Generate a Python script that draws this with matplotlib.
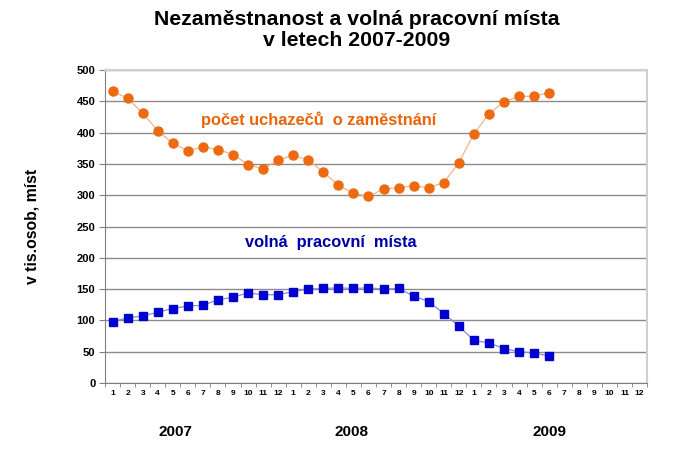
import matplotlib
matplotlib.use("Agg")
import matplotlib.pyplot as plt
import numpy as np

plt.rcParams['font.family'] = ['Liberation Sans', 'DejaVu Sans']

months = [str(m) for m in range(1, 13)] * 3
years = ["2007", "2008", "2009"]
uchazeci = [466, 455, 431, 403, 383, 371, 377, 373, 365, 349, 342, 356,
            364, 356, 337, 316, 303, 298, 310, 312, 315, 312, 320, 352,
            398, 430, 449, 458, 458, 464]
volna_mista = [98, 104, 107, 113, 119, 123, 124, 133, 137, 144, 141, 141,
               146, 150, 151, 152, 151, 152, 150, 151, 139, 130, 111, 91,
               68, 64, 55, 50, 48, 43]

fig = plt.figure(figsize=(6.82, 4.54), dpi=100)
ax = fig.add_axes([0.154, 0.1564, 0.7947, 0.6894])

x_all = np.arange(len(months))
ax.plot(np.arange(len(uchazeci)), uchazeci, color='#F2B48A', lw=0.9,
        marker='o', ms=6.5, mfc='#EE6A10', mec='#EE6A10', zorder=3)
ax.plot(np.arange(len(volna_mista)), volna_mista, color='#8A8ACC', lw=0.9,
        marker='s', ms=6, mfc='#0000D0', mec='#0000D0', zorder=3)

ax.set_xlim(-0.5, len(months) - 0.5)
ax.set_ylim(0, 500)
ax.set_yticks(np.arange(0, 501, 50))
ax.tick_params(axis='y', labelsize=8, length=4, color='#808080', pad=3)
for lab in ax.get_yticklabels():
    lab.set_fontweight('bold')

ax.set_xticks(x_all)
ax.set_xticklabels(months, fontsize=6, fontweight='bold')
ax.tick_params(axis='x', length=0, pad=5)
ax.set_xticks(np.arange(-0.5, len(months), 1), minor=True)
ax.tick_params(axis='x', which='minor', length=3, color='#808080')

ax.grid(axis='y', color='#8C8C8C', lw=1.0)
ax.set_axisbelow(True)
ax.spines['left'].set_color('#808080')
ax.spines['bottom'].set_color('#808080')
ax.spines['top'].set_color('#D0D0D0')
ax.spines['right'].set_color('#D0D0D0')
ax.spines['top'].set_linewidth(1.5)
ax.spines['right'].set_linewidth(1.5)

ax.set_ylabel('v tis.osob, míst', fontsize=11.3, fontweight='bold', labelpad=27)

year_x = [4.2, 15.9, 29.0]
for yx, yl in zip(year_x, years):
    ax.text(yx, -0.155, yl, transform=ax.get_xaxis_transform(),
            ha='center', va='center', fontsize=11, fontweight='bold')

ax.text(13.7, 420, 'počet uchazečů  o zaměstnání', color='#E8650A',
        fontsize=11.8, fontweight='bold', ha='center', va='center')
ax.text(14.5, 225, 'volná  pracovní  místa', color='#0000A8',
        fontsize=11.8, fontweight='bold', ha='center', va='center')

fig.text(0.523, 0.934, 'Nezaměstnanost a volná pracovní místa\nv letech 2007-2009',
         ha='center', va='center', fontsize=15.3, fontweight='bold', linespacing=1.15)

fig.savefig('out.png', dpi=100)
